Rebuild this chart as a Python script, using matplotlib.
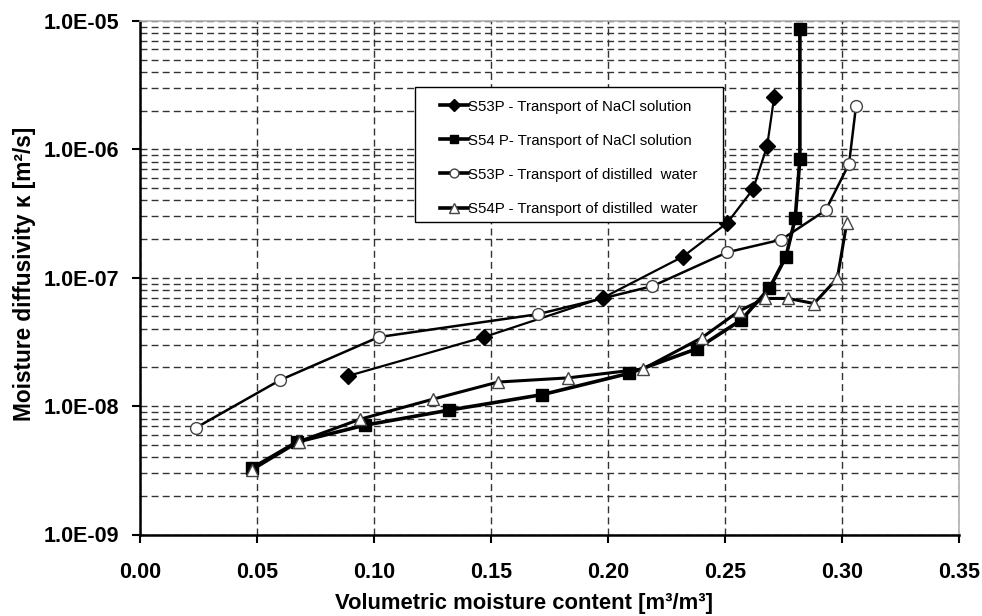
import matplotlib
matplotlib.use("Agg")
import matplotlib.pyplot as plt
from matplotlib.patches import Rectangle
from matplotlib.ticker import LogLocator, FixedLocator, FuncFormatter, NullFormatter

plt.rcParams['font.family'] = ['Liberation Sans', 'DejaVu Sans']

# S53P - NaCl solution (diamonds)
x_s53_nacl = [0.089, 0.147, 0.198, 0.232, 0.251, 0.262, 0.268, 0.271]
y_s53_nacl = [1.72e-8, 3.45e-8, 7.0e-8, 1.46e-7, 2.68e-7, 4.9e-7, 1.06e-6, 2.55e-6]

# S54P - NaCl solution (squares)
x_s54_nacl = [0.048, 0.067, 0.096, 0.132, 0.172, 0.209, 0.238, 0.257, 0.269, 0.276, 0.280, 0.282, 0.282]
y_s54_nacl = [3.3e-9, 5.25e-9, 7.1e-9, 9.3e-9, 1.23e-8, 1.8e-8, 2.8e-8, 4.7e-8, 8.3e-8, 1.45e-7, 2.9e-7, 8.4e-7, 8.6e-6]

# S53P - distilled water (circles)
x_s53_water = [0.024, 0.060, 0.102, 0.170, 0.219, 0.251, 0.274, 0.293, 0.303, 0.306]
y_s53_water = [6.8e-9, 1.6e-8, 3.45e-8, 5.2e-8, 8.6e-8, 1.58e-7, 1.98e-7, 3.35e-7, 7.7e-7, 2.18e-6]

# S54P - distilled water (triangles)
x_s54_water = [0.048, 0.068, 0.094, 0.125, 0.153, 0.183, 0.215, 0.240, 0.256, 0.267, 0.277, 0.288, 0.298, 0.302]
y_s54_water = [3.2e-9, 5.3e-9, 7.9e-9, 1.13e-8, 1.54e-8, 1.66e-8, 1.95e-8, 3.4e-8, 5.5e-8, 6.9e-8, 6.9e-8, 6.3e-8, 9.9e-8, 2.65e-7]

labels = ["S53P - Transport of NaCl solution",
          "S54 P- Transport of NaCl solution",
          "S53P - Transport of distilled  water",
          "S54P - Transport of distilled  water"]

x_ticks = [0.00, 0.05, 0.10, 0.15, 0.20, 0.25, 0.30, 0.35]

W, H = 982, 616
fig = plt.figure(figsize=(W/100, H/100), dpi=100)
L, R, T, B = 140, 959, 21, 534.5
ax = fig.add_axes([L/W, 1-B/H, (R-L)/W, (B-T)/H])

ax.set_yscale('log')
ax.set_xlim(0, 0.35)
ax.set_ylim(1e-9, 1e-5)

grid_kw = dict(color='#333333', linewidth=1.0, linestyle=(0, (5, 3)))
ax.xaxis.set_major_locator(FixedLocator(x_ticks))
ax.yaxis.set_major_locator(LogLocator(base=10, numticks=10))
ax.yaxis.set_minor_locator(LogLocator(base=10, subs=range(2, 10), numticks=20))
ax.yaxis.set_minor_formatter(NullFormatter())
ax.grid(True, which='major', axis='x', **grid_kw)
ax.grid(True, which='both', axis='y', **grid_kw)
ax.set_axisbelow(True)

ax.xaxis.set_major_formatter(FuncFormatter(lambda v, p: f"{v:.2f}"))
def yfmt(v, p):
    s = f"{v:.1E}"
    m, e = s.split('E')
    return f"{m}E-{abs(int(e)):02d}"
ax.yaxis.set_major_formatter(FuncFormatter(yfmt))

ax.tick_params(axis='both', which='major', direction='out', length=6, width=1.5,
               labelsize=15.5)
ax.tick_params(axis='x', which='major', pad=14)
ax.tick_params(axis='y', which='major', pad=9)
ax.tick_params(axis='y', which='minor', length=0)
for lab in ax.get_xticklabels() + ax.get_yticklabels():
    lab.set_fontweight('bold')
ax.xaxis.label.set_visible(False)
ax.yaxis.label.set_visible(False)

for side in ['left', 'bottom']:
    ax.spines[side].set_linewidth(1.8)
    ax.spines[side].set_color('black')
for side in ['top', 'right']:
    ax.spines[side].set_linewidth(1.2)
    ax.spines[side].set_color('#b0b0b0')

ax.plot(x_s53_nacl, y_s53_nacl, color='black', linewidth=1.6, marker='D',
        markersize=8, markerfacecolor='black', markeredgecolor='black', label=labels[0], zorder=3)
ax.plot(x_s54_nacl, y_s54_nacl, color='black', linewidth=2.6, marker='s',
        markersize=8, markerfacecolor='black', markeredgecolor='black', label=labels[1], zorder=3)
ax.plot(x_s53_water, y_s53_water, color='black', linewidth=1.8, marker='o',
        markersize=8.5, markerfacecolor='white', markeredgecolor='#444444', markeredgewidth=1.0,
        label=labels[2], zorder=3)
ax.plot(x_s54_water, y_s54_water, color='black', linewidth=2.2, marker='^',
        markersize=9, markerfacecolor='white', markeredgecolor='#444444', markeredgewidth=1.0,
        label=labels[3], zorder=3)

fig.text(25/W, 1-274/H, "Moisture diffusivity κ [m²/s]", rotation=90, fontsize=16.3,
         fontweight='bold', ha='center', va='center')
fig.text(524/W, 1-604/H, "Volumetric moisture content [m³/m³]", fontsize=15.8,
         fontweight='bold', ha='center', va='center')

# legend frame (white box with black border)
box = Rectangle((415/W, 1-222/H), (723-415)/W, (222-87)/H, transform=fig.transFigure,
                facecolor='white', edgecolor='black', linewidth=1.0, zorder=4)
ax.add_artist(box)

leg = ax.legend(loc='upper left', bbox_to_anchor=((440-L)/(R-L), 1-(99.5-T)/(B-T)),
                fontsize=10.8, frameon=False, handlelength=1.85, handletextpad=0.05,
                labelspacing=1.34, borderpad=0, borderaxespad=0, markerscale=0.75)
for h in leg.legend_handles:
    h.set_linewidth(2.6)
leg.set_zorder(5)

fig.savefig("out.png", dpi=100)
